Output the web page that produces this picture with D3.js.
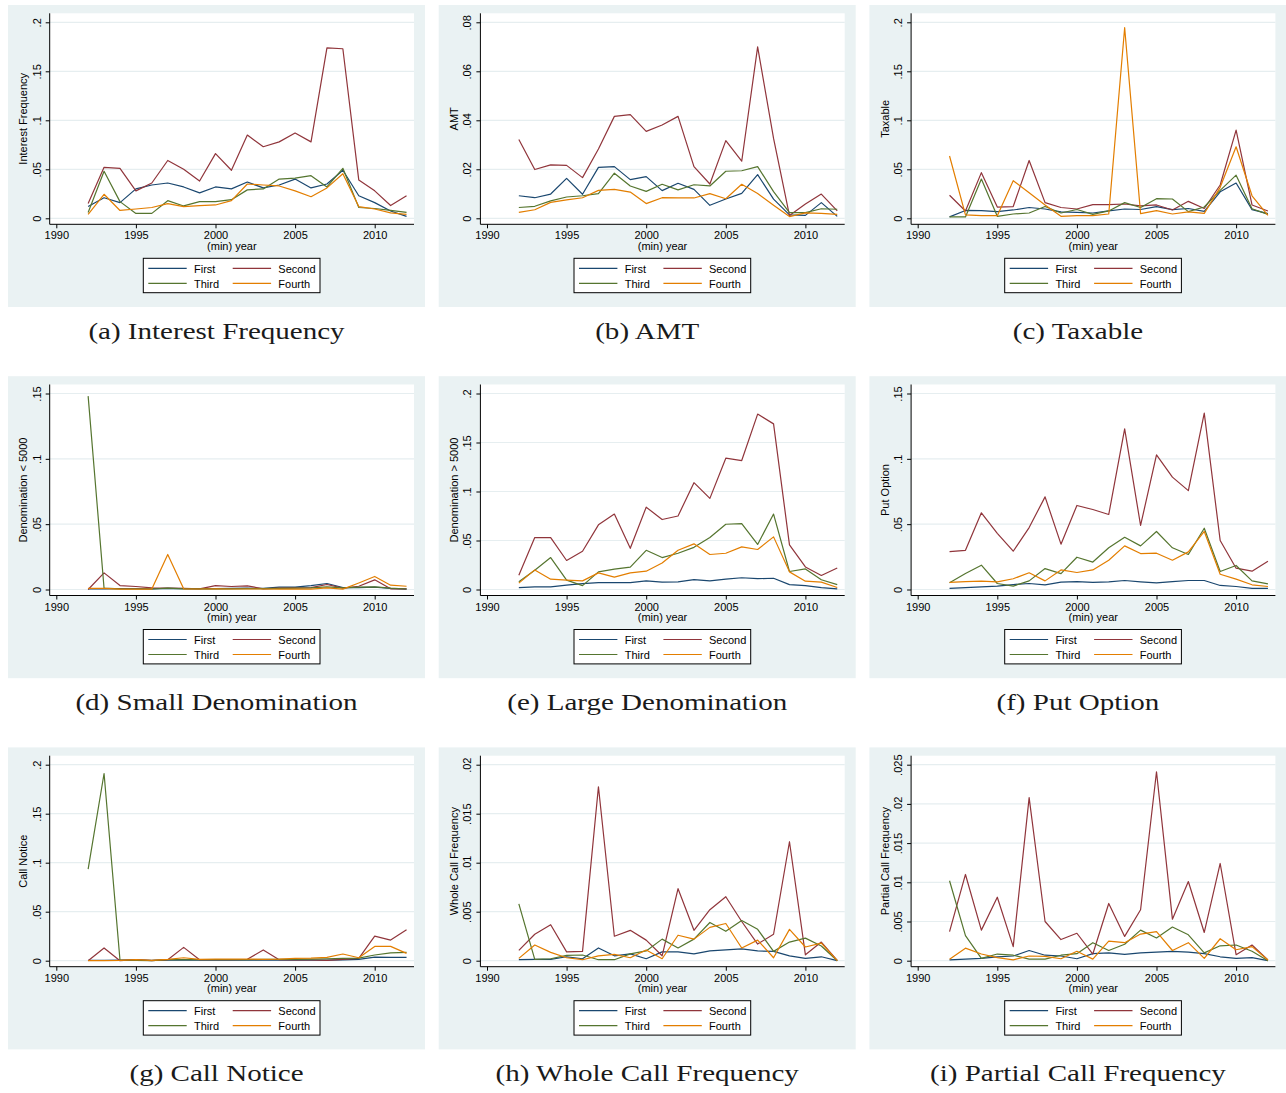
<!DOCTYPE html>
<html><head><meta charset="utf-8">
<script src="https://cdn.jsdelivr.net/npm/d3@7"></script>
<style>body{margin:0;background:#fff} svg{display:block}</style>
</head><body><svg id="c" width="1286" height="1093"></svg>
<script>
const years = [1992,1993,1994,1995,1996,1997,1998,1999,2000,2001,2002,2003,2004,2005,2006,2007,2008,2009,2010,2011,2012];
const xTicks = [1990,1995,2000,2005,2010];
const seriesNames = ["First","Second","Third","Fourth"];
const seriesColors = ["#1a476f","#90353b","#55752f","#e37e00"];

// (a) Interest Frequency
const intFirst  = [.012,.021,.016,.030,.034,.036,.032,.026,.032,.030,.037,.031,.034,.040,.031,.035,.049,.023,.016,.0075,.002];
const intSecond = [.015,.052,.051,.028,.036,.059,.050,.038,.066,.049,.085,.073,.078,.087,.078,.174,.173,.039,.028,.013,.023];
const intThird  = [.006,.048,.017,.005,.005,.018,.0126,.017,.017,.019,.029,.030,.040,.041,.0435,.032,.051,.011,.010,.008,.006];
const intFourth = [.004,.0245,.008,.0095,.011,.015,.012,.013,.0136,.018,.035,.034,.033,.028,.022,.031,.0455,.012,.0095,.0055,.004];
// (b) AMT
const amtFirst  = [.0092,.0084,.0099,.0163,.0098,.0208,.0211,.0158,.017,.0113,.0143,.0118,.0053,.0079,.0102,.0178,.0078,.0014,.0012,.0064,.0008];
const amtSecond = [.0322,.0199,.0218,.0216,.0166,.0283,.0416,.0423,.0355,.0381,.0416,.0211,.014,.0317,.0233,.070,.0326,.0011,.0058,.0099,.003];
const amtThird  = [.0044,.0049,.0071,.0087,.0092,.0101,.0184,.0132,.011,.0139,.0116,.0137,.0132,.0192,.0194,.0211,.0109,.0023,.0023,.0039,.0037];
const amtFourth = [.0024,.0035,.0065,.0075,.0084,.0114,.0118,.0107,.006,.0084,.0083,.0083,.0101,.008,.0139,.0101,.0053,.0007,.0022,.002,.0016];
// (c) Taxable
const taxFirst  = [.0014,.008,.0078,.0068,.0085,.011,.0095,.0065,.006,.0054,.0075,.0095,.009,.012,.0088,.010,.007,.027,.036,.0088,.0048];
const taxSecond = [.0235,.0075,.0466,.0115,.012,.059,.016,.011,.0095,.014,.014,.0146,.0126,.0136,.0085,.0173,.010,.034,.090,.0136,.0075];
const taxThird  = [.0014,.0014,.040,.002,.0044,.0054,.012,.0054,.009,.004,.0075,.016,.011,.020,.0197,.0068,.0115,.0285,.044,.0098,.004];
const taxFourth = [.0636,.0034,.0027,.0027,.0384,.026,.0136,.002,.0027,.0027,.0044,.1945,.0048,.0078,.0044,.0065,.005,.0316,.073,.023,.003];
// (d) Small Denomination
const smallFirst  = [.0005,.0005,.0006,.0006,.0005,.0008,.0007,.0006,.0007,.0008,.001,.0008,.0018,.0018,.003,.0046,.0015,.0015,.0018,.0008,.0003];
const smallSecond = [0,.0127,.003,.0023,.0013,.001,.0008,.0005,.003,.0023,.0028,.0005,.001,.0013,.0015,.0038,.001,.0025,.0074,.0005,.0005];
const smallThird  = [.148,.001,.0005,.0004,.0004,.001,.0005,.0005,.0005,.0005,.0006,.0006,.0008,.001,.0012,.002,.0012,.0018,.002,.001,.0004];
const smallFourth = [.0008,.0008,.0003,.0003,.0003,.0268,.0005,.0004,.0005,.0004,.0004,.0004,.0003,.0003,.0003,.0013,.0003,.005,.010,.0033,.0025];
// (e) Large Denomination
const largeFirst  = [.002,.0027,.0027,.0044,.006,.007,.007,.007,.0088,.0075,.0078,.010,.0088,.0105,.012,.011,.0115,.005,.004,.002,.0007];
const largeSecond = [.0146,.053,.053,.0296,.039,.066,.077,.042,.084,.0714,.075,.109,.093,.134,.1316,.179,.169,.0456,.023,.0143,.022];
const largeThird  = [.0078,.0197,.0326,.0095,.004,.018,.0207,.0228,.040,.0326,.037,.043,.053,.0666,.0673,.046,.077,.0184,.021,.010,.005];
const largeFourth = [.0065,.020,.0105,.0095,.0088,.017,.0126,.017,.0187,.027,.040,.0466,.0357,.037,.0435,.0408,.0537,.018,.0085,.0075,.002];
// (f) Put Option
const putFirst  = [.0008,.0015,.002,.0026,.0038,.0046,.0036,.0056,.0061,.0054,.0059,.0069,.0059,.0051,.0061,.0069,.0069,.0031,.0023,.0008,.0008];
const putSecond = [.029,.030,.0587,.043,.0293,.0474,.0709,.0347,.0643,.0612,.0574,.123,.049,.103,.086,.0757,.135,.0375,.0163,.014,.0217];
const putThird  = [.0051,.0122,.0186,.0046,.0026,.0066,.016,.0122,.0247,.021,.0319,.040,.0334,.0444,.0319,.0268,.0469,.0138,.0184,.0066,.0043];
const putFourth = [.0054,.0061,.0064,.0059,.0082,.0128,.0066,.015,.013,.015,.0224,.0334,.0275,.0278,.0224,.0288,.0444,.0117,.0079,.0036,.0023];
// (g) Call Notice
const callFirst  = [.0003,.0003,.0005,.0005,.0003,.0005,.0005,.0005,.0005,.0005,.0005,.0005,.0005,.0005,.0005,.0005,.0008,.0014,.0037,.0034,.0034];
const callSecond = [0,.013,0,.001,0,.001,.0136,.001,.001,.001,.0014,.011,.001,.0007,.0007,.0003,.0014,.0024,.025,.021,.0316];
const callThird  = [.0935,.191,.0007,.0003,0,.001,.001,.001,.001,.001,.001,.0014,.0014,.0014,.0017,.002,.0024,.0027,.0058,.008,.0085];
const callFourth = [0,0,.0003,.001,.0003,.0014,.003,.0014,.0017,.0017,.0017,.0014,.0017,.0024,.0027,.0034,.0068,.003,.0146,.0146,.0075];
// (h) Whole Call Frequency
const wholeFirst  = [.0001,.00014,.00014,.0004,.0002,.0013,.0005,.0007,.0002,.0009,.0009,.0007,.001,.0011,.0012,.001,.00095,.0005,.00024,.0004,0];
const wholeSecond = [.00105,.0027,.00367,.0009,.00095,.01775,.0025,.0031,.0021,.0005,.00735,.0031,.0052,.00653,.004,.0017,.0027,.01214,.0006,.0019,.00003];
const wholeThird  = [.0058,.00014,.0002,.00054,.00058,.0001,.0001,.0007,.001,.0022,.0013,.0022,.0039,.003,.0041,.0032,.00095,.0019,.0023,.0015,0];
const wholeFourth = [.00024,.0016,.00085,.0003,.0001,.0005,.00065,.0003,.0011,.0002,.0026,.0022,.0034,.0038,.0013,.0021,.0003,.0032,.0014,.0018,0];
// (i) Partial Call Frequency
const partFirst  = [.0001,.0002,.0003,.0005,.0006,.0013,.0007,.0006,.00025,.0009,.001,.0008,.001,.0011,.0012,.0011,.0009,.0005,.0003,.0004,0];
const partSecond = [.0037,.011,.0039,.0081,.0018,.0208,.005,.0027,.0035,.00085,.0073,.0031,.0065,.0241,.0053,.0101,.0036,.0124,.00077,.002,.0001];
const partThird  = [.0102,.0032,.0003,.00085,.0007,.0002,.0002,.0007,.0009,.0023,.0013,.0021,.0039,.0029,.0043,.0033,.001,.0019,.002,.0012,0];
const partFourth = [.0002,.0016,.00085,.0004,.0001,.0006,.00055,.00025,.0012,.0002,.0025,.0023,.0034,.0037,.0013,.0023,.0003,.0028,.0014,.0018,.0001];

// y tick values and labels
const ticks20 = [0,.05,.1,.15,.2],  labels20 = ["0",".05",".1",".15",".2"];
const ticks08 = [0,.02,.04,.06,.08], labels08 = ["0",".02",".04",".06",".08"];
const ticks15 = [0,.05,.1,.15],     labels15 = ["0",".05",".1",".15"];
const ticks02 = [0,.005,.01,.015,.02], labels02 = ["0",".005",".01",".015",".02"];
const ticks025 = [0,.005,.01,.015,.02,.025], labels025 = ["0",".005",".01",".015",".02",".025"];

const captions = ["(a) Interest Frequency","(b) AMT","(c) Taxable","(d) Small Denomination","(e) Large Denomination","(f) Put Option","(g) Call Notice","(h) Whole Call Frequency","(i) Partial Call Frequency"];
const yTitles = ["Interest Frequency","AMT","Taxable","Denomination < 5000","Denomination > 5000","Put Option","Call Notice","Whole Call Frequency","Partial Call Frequency"];

const panels = [
  {ticks:ticks20, labels:labels20, data:[intFirst,intSecond,intThird,intFourth]},
  {ticks:ticks08, labels:labels08, data:[amtFirst,amtSecond,amtThird,amtFourth]},
  {ticks:ticks20, labels:labels20, data:[taxFirst,taxSecond,taxThird,taxFourth]},
  {ticks:ticks15, labels:labels15, data:[smallFirst,smallSecond,smallThird,smallFourth]},
  {ticks:ticks20, labels:labels20, data:[largeFirst,largeSecond,largeThird,largeFourth]},
  {ticks:ticks15, labels:labels15, data:[putFirst,putSecond,putThird,putFourth]},
  {ticks:ticks20, labels:labels20, data:[callFirst,callSecond,callThird,callFourth]},
  {ticks:ticks02, labels:labels02, data:[wholeFirst,wholeSecond,wholeThird,wholeFourth]},
  {ticks:ticks025, labels:labels025, data:[partFirst,partSecond,partThird,partFourth]}
];

const svg = d3.select("#c");
const FONT = "'Liberation Sans', Arial, sans-serif";
const SERIF = "'Liberation Serif', 'Times New Roman', serif";
const colStep = 430.7, rowStep = 371.2, ox0 = 8, oy0 = 5;
const PW = 417, PH = 302;
const L = 41.7, R = 406, T = 8.3, B = 219.3;

panels.forEach((p, i) => {
  const col = i % 3, row = Math.floor(i / 3);
  const g = svg.append("g").attr("transform", `translate(${ox0 + col*colStep},${oy0 + row*rowStep})`);
  g.append("rect").attr("width", PW).attr("height", PH).attr("fill", "#eaf2f3");
  g.append("rect").attr("x", L).attr("y", T).attr("width", R - L).attr("height", B - T).attr("fill", "#fff");

  const x = d3.scaleLinear().domain([1990, 2010]).range([48.3, 366.7]);
  const y = d3.scaleLinear().domain([0, p.ticks[p.ticks.length - 1]]).range([213.3, 17.3]);

  g.append("g").selectAll("line").data(p.ticks).join("line")
    .attr("x1", L).attr("x2", R).attr("y1", d => y(d)).attr("y2", d => y(d))
    .attr("stroke", "#e6eef0").attr("stroke-width", 1.2);

  const line = d3.line().x((d, k) => x(years[k])).y(d => y(d));
  p.data.forEach((s, k) => {
    g.append("path").datum(s).attr("d", line).attr("fill", "none")
      .attr("stroke", seriesColors[k]).attr("stroke-width", 1.2).attr("stroke-linejoin", "round");
  });

  // y axis
  const ya = g.append("g").attr("transform", `translate(${L},0)`)
    .call(d3.axisLeft(y).tickValues(p.ticks).tickFormat((d, k) => p.labels[k]).tickSize(4));
  ya.select(".domain").remove();
  ya.selectAll(".tick line").attr("stroke", "#000");
  ya.selectAll(".tick text").attr("x", null).attr("dy", null).attr("y", null)
    .attr("transform", "translate(-9,0) rotate(-90)").attr("text-anchor", "middle")
    .attr("font-family", FONT).attr("font-size", 11).attr("fill", "#000");

  // x axis
  const xa = g.append("g").attr("transform", `translate(0,${B})`)
    .call(d3.axisBottom(x).tickValues(xTicks).tickFormat(d3.format("d")).tickSize(4));
  xa.select(".domain").remove();
  xa.selectAll(".tick line").attr("stroke", "#000");
  xa.selectAll(".tick text").attr("y", 15).attr("dy", null)
    .attr("font-family", FONT).attr("font-size", 11).attr("fill", "#000");

  g.append("line").attr("x1", L).attr("x2", L).attr("y1", T).attr("y2", B).attr("stroke", "#000").attr("stroke-width", 1);
  g.append("line").attr("x1", L).attr("x2", R).attr("y1", B).attr("y2", B).attr("stroke", "#000").attr("stroke-width", 1);

  // titles
  g.append("text").attr("transform", `translate(19.4,${(T + B) / 2}) rotate(-90)`).attr("text-anchor", "middle")
    .attr("font-family", FONT).attr("font-size", 11).text(yTitles[i]);
  g.append("text").attr("x", (L + R) / 2).attr("y", 245).attr("text-anchor", "middle")
    .attr("font-family", FONT).attr("font-size", 11).text("(min) year");

  // legend
  const lg = g.append("g");
  lg.append("rect").attr("x", 135.3).attr("y", 253.3).attr("width", 176.7).attr("height", 34.4)
    .attr("fill", "#fff").attr("stroke", "#000").attr("stroke-width", 1);
  seriesNames.forEach((nm, k) => {
    const c = k % 2, r = Math.floor(k / 2);
    lg.append("line").attr("x1", 140.3 + c*84.4).attr("x2", 178.7 + c*84.4)
      .attr("y1", 263.3 + r*15).attr("y2", 263.3 + r*15)
      .attr("stroke", seriesColors[k]).attr("stroke-width", 1.2);
    lg.append("text").attr("x", 186 + c*84.3).attr("y", 267.8 + r*15)
      .attr("font-family", FONT).attr("font-size", 11).text(nm);
  });

  // caption
  g.append("text").attr("transform", `translate(${PW/2},333.5) scale(1.21,1)`).attr("text-anchor", "middle")
    .attr("font-family", SERIF).attr("font-size", 24).attr("fill", "#1a1a1a").text(captions[i]);
});
</script>
</body></html>
